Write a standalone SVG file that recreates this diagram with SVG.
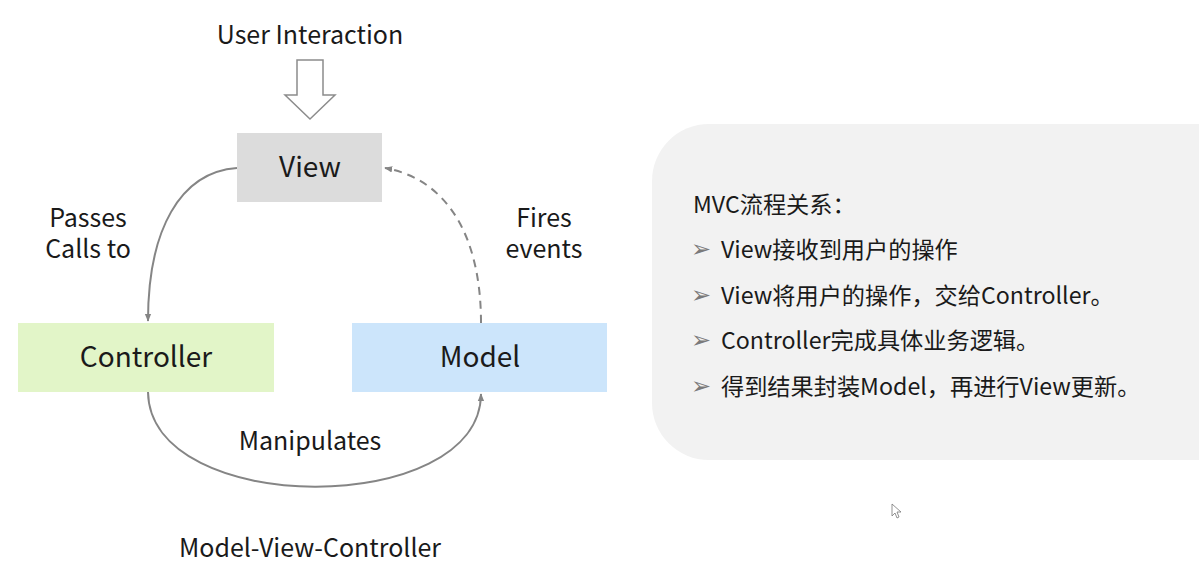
<svg xmlns="http://www.w3.org/2000/svg" width="1199" height="578" viewBox="0 0 1199 578">
<defs>
<style>
text{font-family:"Noto Sans CJK SC","Noto Sans",sans-serif;fill:#1a1a1a;}
.lbl{font-size:25px;text-anchor:middle;}
.node{font-size:28px;text-anchor:middle;}
.item{font-size:23.2px;}
.bul{font-family:"DejaVu Sans",sans-serif;font-size:24px;fill:#7a7a7a;}
.conn{fill:none;stroke:#858585;stroke-width:2;}
</style>
<marker id="ah2" viewBox="0 0 10 10" refX="9" refY="5" markerWidth="8" markerHeight="8" orient="auto" markerUnits="userSpaceOnUse">
<path d="M0,1 L10,5 L0,9 Z" fill="#858585"/>
</marker>
</defs>
<rect width="1199" height="578" fill="#ffffff"/>

<g id="user-interaction">
<text class="lbl" x="310" y="44">User Interaction</text>
<path d="M297,60 L323,60 L323,95 L335,95 L310,119 L285,95 L297,95 Z" fill="#ffffff" stroke="#8c8c8c" stroke-width="1.5"/>
</g>

<g id="connectors">
<path class="conn" d="M237,168 C180,172 148,230 148,321" marker-end="url(#ah2)"/>
<path class="conn" d="M481,323 C481,240 450,180 385,168" stroke-dasharray="8,6" marker-end="url(#ah2)"/>
<path class="conn" d="M148,392 C150,518 480,518 481,394" marker-end="url(#ah2)"/>
<text class="lbl" x="88" y="227">Passes</text>
<text class="lbl" x="88" y="258">Calls to</text>
<text class="lbl" x="544" y="227">Fires</text>
<text class="lbl" x="544" y="258">events</text>
<text class="lbl" x="310" y="450">Manipulates</text>
</g>

<g id="view">
<rect x="237" y="133" width="145" height="69" fill="#dcdcdc"/>
<text class="node" x="310" y="177">View</text>
</g>

<g id="controller">
<rect x="18" y="323" width="256" height="69" fill="#e2f5c8"/>
<text class="node" x="146" y="367">Controller</text>
</g>

<g id="model">
<rect x="352" y="323" width="255" height="69" fill="#cce5fb"/>
<text class="node" x="480" y="367">Model</text>
</g>

<text class="lbl" x="310" y="557">Model-View-Controller</text>

<g id="panel">
<rect x="652" y="124" width="620" height="336" rx="57" ry="57" fill="#f2f2f2"/>
<text class="item" x="693" y="213">MVC流程关系：</text>
<text class="bul" x="691" y="257">➢</text>
<text class="item" x="721" y="258">View接收到用户的操作</text>
<text class="bul" x="691" y="303">➢</text>
<text class="item" x="721" y="304">View将用户的操作，交给Controller。</text>
<text class="bul" x="691" y="348">➢</text>
<text class="item" x="721" y="349">Controller完成具体业务逻辑。</text>
<text class="bul" x="691" y="394">➢</text>
<text class="item" x="721" y="395">得到结果封装Model，再进行View更新。</text>
</g>

<path d="M892,504 L892,516 L895,513 L897,518 L899,517 L897,512 L901,512 Z" fill="#ffffff" stroke="#777" stroke-width="0.8"/>
</svg>
